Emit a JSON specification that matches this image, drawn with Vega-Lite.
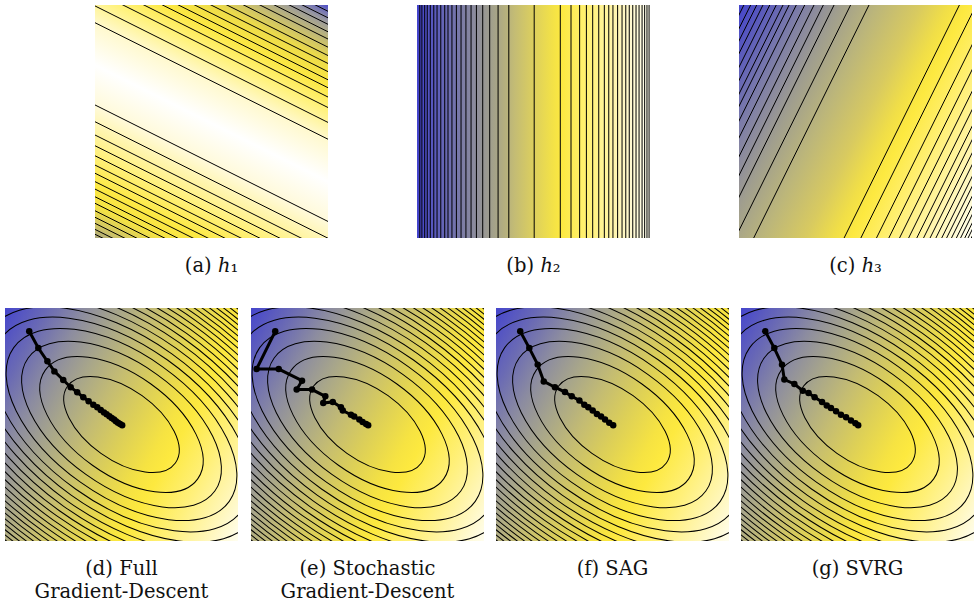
{
  "$schema": "https://vega.github.io/schema/vega-lite/v6.json",
  "padding": {"left": 5, "top": 5, "right": 0, "bottom": 0},
  "background": "white",
  "config": {
    "view": {"stroke": null},
    "axis": {"disable": true},
    "legend": {"disable": true},
    "title": {"orient": "bottom", "anchor": "middle", "font": "DejaVu Serif", "fontSize": 19.5, "fontWeight": "normal", "color": "#111111", "offset": 19, "lineHeight": 23}
  },
  "datasets": {
    "ell": [{"k":1},{"k":2},{"k":3},{"k":4},{"k":5},{"k":6},{"k":7},{"k":8},{"k":9},{"k":10},{"k":11},{"k":12},{"k":13},{"k":14},{"k":15},{"k":16},{"k":17},{"k":18},{"k":19},{"k":20},{"k":21},{"k":22}],
    "h1": [{"l":7.6,"r":57.6},{"l":0.4,"r":50.4},{"l":-6.0,"r":44.0},{"l":-10.5,"r":39.5},{"l":-14.5,"r":35.5},{"l":-17.9,"r":32.1},{"l":-21.4,"r":28.6},{"l":-24.9,"r":25.1},{"l":-28.3,"r":21.7},{"l":-31.9,"r":18.1},{"l":-35.4,"r":14.6},{"l":-38.5,"r":11.5},{"l":-41.7,"r":8.3},{"l":-44.5,"r":5.5},{"l":-47.3,"r":2.7},
           {"l":42.9,"r":92.9},{"l":50.1,"r":100.1},{"l":55.8,"r":105.8},{"l":60.4,"r":110.4},{"l":64.7,"r":114.7},{"l":68.7,"r":118.7},{"l":72.2,"r":122.2},{"l":75.8,"r":125.8},{"l":79.0,"r":129.0},{"l":82.3,"r":132.3},{"l":85.1,"r":135.1},{"l":88.3,"r":138.3},{"l":91.1,"r":141.1},{"l":93.7,"r":143.7},{"l":96.3,"r":146.3},{"l":98.4,"r":148.4}],
    "h2": [{"x":1.2},{"x":2.1},{"x":3.3},{"x":4.4},{"x":5.7},{"x":7.2},{"x":8.6},{"x":10.2},{"x":11.9},{"x":13.3},{"x":15.0},{"x":16.9},{"x":18.9},{"x":21.0},{"x":23.2},{"x":25.5},{"x":28.2},{"x":31.2},{"x":34.8},{"x":39.4},{"x":50.3},
           {"x":61.5},{"x":66.1},{"x":69.8},{"x":72.7},{"x":75.4},{"x":78.0},{"x":80.4},{"x":82.3},{"x":84.1},{"x":86.1},{"x":88.0},{"x":89.6},{"x":91.1},{"x":92.6},{"x":94.0},{"x":95.3},{"x":96.6},{"x":97.7},{"x":98.7},{"x":99.6}],
    "h3": [{"t":55.8,"b":6.3},{"t":47.9,"b":-1.6},{"t":40.8,"b":-8.7},{"t":36.2,"b":-13.3},{"t":32.2,"b":-17.3},{"t":28.2,"b":-21.3},{"t":24.6,"b":-24.9},{"t":21.5,"b":-28.0},{"t":18.9,"b":-30.6},{"t":16.0,"b":-33.5},{"t":13.2,"b":-36.3},{"t":10.3,"b":-39.2},{"t":7.6,"b":-41.9},{"t":5.0,"b":-44.5},{"t":2.1,"b":-47.4},
           {"t":94.6,"b":45.1},{"t":101.8,"b":52.3},{"t":108.5,"b":59.0},{"t":113.8,"b":64.3},{"t":118.4,"b":68.9},{"t":122.3,"b":72.8},{"t":125.8,"b":76.3},{"t":128.7,"b":79.2},{"t":131.5,"b":82.0},{"t":134.0,"b":84.5},{"t":136.5,"b":87.0},{"t":138.6,"b":89.1},{"t":140.7,"b":91.2},{"t":142.8,"b":93.3},{"t":144.6,"b":95.1},{"t":146.4,"b":96.9},{"t":147.8,"b":98.3},{"t":149.2,"b":99.7}],
    "gd": [{"i":0,"x":10.4,"y":10.0},{"i":1,"x":14.3,"y":17.2},{"i":2,"x":18.2,"y":22.9},{"i":3,"x":21.2,"y":27.2},{"i":4,"x":25.0,"y":30.9},{"i":5,"x":28.2,"y":34.0},{"i":6,"x":31.0,"y":36.2},{"i":7,"x":33.6,"y":38.3},{"i":8,"x":35.9,"y":40.0},{"i":9,"x":37.9,"y":41.5},{"i":10,"x":39.6,"y":42.6},{"i":11,"x":41.1,"y":43.8},{"i":12,"x":42.5,"y":44.8},{"i":13,"x":43.6,"y":45.6},{"i":14,"x":44.8,"y":46.5},{"i":15,"x":45.8,"y":47.2},{"i":16,"x":46.8,"y":47.9},{"i":17,"x":47.6,"y":48.6},{"i":18,"x":48.5,"y":49.2},{"i":19,"x":49.4,"y":49.8},{"i":20,"x":50.3,"y":50.3}],
    "sgd": [{"i":0,"x":10.4,"y":10.0},{"i":1,"x":2.4,"y":26.2},{"i":2,"x":11.9,"y":26.2},{"i":3,"x":21.9,"y":31.2},{"i":4,"x":19.6,"y":35.0},{"i":5,"x":26.2,"y":35.0},{"i":6,"x":31.9,"y":37.9},{"i":7,"x":31.0,"y":40.8},{"i":8,"x":35.1,"y":40.3},{"i":9,"x":38.6,"y":42.6},{"i":10,"x":39.4,"y":44.0},{"i":11,"x":42.9,"y":45.8},{"i":12,"x":44.3,"y":46.6},{"i":13,"x":46.5,"y":47.9},{"i":14,"x":47.9,"y":48.9},{"i":15,"x":49.4,"y":49.8},{"i":16,"x":50.3,"y":50.3}],
    "sag": [{"i":0,"x":10.4,"y":10.0},{"i":1,"x":14.3,"y":17.2},{"i":2,"x":17.9,"y":24.3},{"i":3,"x":20.5,"y":31.5},{"i":4,"x":25.3,"y":34.0},{"i":5,"x":29.6,"y":36.1},{"i":6,"x":32.5,"y":37.9},{"i":7,"x":35.8,"y":39.7},{"i":8,"x":37.9,"y":41.5},{"i":9,"x":39.6,"y":42.6},{"i":10,"x":41.5,"y":44.0},{"i":11,"x":43.3,"y":45.5},{"i":12,"x":45.1,"y":46.6},{"i":13,"x":46.8,"y":47.9},{"i":14,"x":48.6,"y":49.2},{"i":15,"x":50.3,"y":50.3}],
    "svrg": [{"i":0,"x":10.4,"y":10.0},{"i":1,"x":14.3,"y":17.2},{"i":2,"x":17.6,"y":24.3},{"i":3,"x":18.6,"y":30.7},{"i":4,"x":22.9,"y":32.6},{"i":5,"x":26.5,"y":35.5},{"i":6,"x":29.0,"y":36.5},{"i":7,"x":31.6,"y":38.3},{"i":8,"x":34.8,"y":40.3},{"i":9,"x":36.8,"y":41.8},{"i":10,"x":38.6,"y":42.9},{"i":11,"x":40.8,"y":44.3},{"i":12,"x":42.9,"y":45.8},{"i":13,"x":45.1,"y":46.9},{"i":14,"x":47.2,"y":48.3},{"i":15,"x":49.1,"y":49.5},{"i":16,"x":50.3,"y":50.3}]
  },
  "spacing": 32,
  "vconcat": [
    {
      "spacing": 89,
      "hconcat": [
        {"width": 1, "height": 233, "data": {"values": [{}]}, "mark": {"type": "text"}, "encoding": {"text": {"value": ""}}},
        {
          "width": 233, "height": 233, "title": {"text": "(a) ℎ₁"},
          "layer": [
            {"data": {"values": [{}]}, "mark": {"type": "rect", "fill": {"gradient": "linear", "x1": 0, "y1": 1, "x2": 0.6, "y2": -0.2, "stops": [
              {"offset": 0, "color": "#a8a47c"}, {"offset": 0.037, "color": "#cfc466"}, {"offset": 0.094, "color": "#f4e244"}, {"offset": 0.15, "color": "#fde943"}, {"offset": 0.266, "color": "#fff28c"}, {"offset": 0.38, "color": "#fffadb"}, {"offset": 0.495, "color": "#ffffff"}, {"offset": 0.61, "color": "#fff9d0"}, {"offset": 0.695, "color": "#fff27e"}, {"offset": 0.767, "color": "#fce842"}, {"offset": 0.838, "color": "#ecdb4a"}, {"offset": 0.91, "color": "#b8b27e"}, {"offset": 0.953, "color": "#9898a0"}, {"offset": 0.981, "color": "#7070b8"}, {"offset": 1, "color": "#4c4cc8"}]}},
             "encoding": {"x": {"datum": 0, "type": "quantitative", "scale": {"domain": [0, 100], "nice": false, "zero": false}}, "x2": {"datum": 100}, "y": {"datum": 0, "type": "quantitative", "scale": {"domain": [0, 100], "nice": false, "zero": false, "reverse": true}}, "y2": {"datum": 100}}},
            {"data": {"name": "h1"}, "mark": {"type": "rule", "clip": true, "color": "black", "strokeWidth": 1},
             "encoding": {"x": {"datum": 0, "type": "quantitative"}, "x2": {"datum": 100}, "y": {"field": "l", "type": "quantitative"}, "y2": {"field": "r"}}}
          ]
        },
        {
          "width": 233, "height": 233, "title": {"text": "(b) ℎ₂"},
          "layer": [
            {"data": {"values": [{}]}, "mark": {"type": "rect", "fill": {"gradient": "linear", "x1": 0, "y1": 0, "x2": 1, "y2": 0, "stops": [
              {"offset": 0, "color": "#4242cc"}, {"offset": 0.06, "color": "#5656c0"}, {"offset": 0.15, "color": "#7070ae"}, {"offset": 0.25, "color": "#8c8c9c"}, {"offset": 0.33, "color": "#a4a28a"}, {"offset": 0.42, "color": "#c4bc74"}, {"offset": 0.5, "color": "#dccf5e"}, {"offset": 0.58, "color": "#f2e148"}, {"offset": 0.62, "color": "#fde940"}, {"offset": 0.7, "color": "#ffef66"}, {"offset": 0.8, "color": "#fff396"}, {"offset": 0.9, "color": "#fff8c8"}, {"offset": 1, "color": "#fffff0"}]}},
             "encoding": {"x": {"datum": 0, "type": "quantitative", "scale": {"domain": [0, 100], "nice": false, "zero": false}}, "x2": {"datum": 100}, "y": {"datum": 0, "type": "quantitative", "scale": {"domain": [0, 100], "nice": false, "zero": false, "reverse": true}}, "y2": {"datum": 100}}},
            {"data": {"name": "h2"}, "mark": {"type": "rule", "clip": true, "color": "black", "strokeWidth": 1},
             "encoding": {"x": {"field": "x", "type": "quantitative"}}}
          ]
        },
        {
          "width": 233, "height": 233, "title": {"text": "(c) ℎ₃"},
          "layer": [
            {"data": {"values": [{}]}, "mark": {"type": "rect", "fill": {"gradient": "linear", "x1": 0, "y1": 0, "x2": 1.2, "y2": 0.594, "stops": [
              {"offset": 0, "color": "#4444cc"}, {"offset": 0.086, "color": "#5e5eba"}, {"offset": 0.17, "color": "#7a7aaa"}, {"offset": 0.29, "color": "#a09e8e"}, {"offset": 0.4, "color": "#bcb67a"}, {"offset": 0.52, "color": "#d8ca60"}, {"offset": 0.6, "color": "#f0de48"}, {"offset": 0.655, "color": "#fde940"}, {"offset": 0.75, "color": "#ffef70"}, {"offset": 0.86, "color": "#fff5a8"}, {"offset": 1, "color": "#fffff2"}]}},
             "encoding": {"x": {"datum": 0, "type": "quantitative", "scale": {"domain": [0, 100], "nice": false, "zero": false}}, "x2": {"datum": 100}, "y": {"datum": 0, "type": "quantitative", "scale": {"domain": [0, 100], "nice": false, "zero": false, "reverse": true}}, "y2": {"datum": 100}}},
            {"data": {"name": "h3"}, "mark": {"type": "rule", "clip": true, "color": "black", "strokeWidth": 1},
             "encoding": {"x": {"field": "t", "type": "quantitative"}, "x2": {"field": "b"}, "y": {"datum": 0, "type": "quantitative"}, "y2": {"datum": 100}}}
          ]
        }
      ]
    },
    {
      "spacing": 12,
      "hconcat": [
        {
          "width": 233, "height": 233, "title": {"text": ["(d) Full", "Gradient-Descent"]},
          "layer": [
            {"data": {"values": [{}]}, "mark": {"type": "rect", "fill": {"gradient": "linear", "x1": 0, "y1": 0, "x2": 1.189, "y2": 0.661, "stops": [
              {"offset": 0, "color": "#4646cc"}, {"offset": 0.12, "color": "#6a6ab4"}, {"offset": 0.22, "color": "#8c8ca0"}, {"offset": 0.32, "color": "#a8a68a"}, {"offset": 0.42, "color": "#c4bc72"}, {"offset": 0.52, "color": "#dccf58"}, {"offset": 0.63, "color": "#f6e342"}, {"offset": 0.68, "color": "#fde93f"}, {"offset": 0.8, "color": "#fff07a"}, {"offset": 0.9, "color": "#fff6b4"}, {"offset": 1, "color": "#fffef0"}]}},
             "encoding": {"x": {"datum": 0, "type": "quantitative", "scale": {"domain": [0, 100], "nice": false, "zero": false}}, "x2": {"datum": 100}, "y": {"datum": 0, "type": "quantitative", "scale": {"domain": [0, 100], "nice": false, "zero": false, "reverse": true}}, "y2": {"datum": 100}}},
            {"data": {"name": "ell"}, "mark": {"type": "point", "shape": "M -1 0 A 1 0.535 0 1 1 1 0 A 1 0.535 0 1 1 -1 0 Z", "angle": 35.5, "filled": false, "color": "black", "stroke": "black", "strokeWidth": 1, "opacity": 1, "clip": true},
             "encoding": {"x": {"datum": 50, "type": "quantitative"}, "y": {"datum": 50, "type": "quantitative"}, "size": {"field": "k", "type": "quantitative", "scale": {"type": "linear", "domain": [0, 22], "range": [0, 385616]}}}},
            {"data": {"name": "gd"}, "mark": {"type": "line", "color": "black", "strokeWidth": 3},
             "encoding": {"x": {"field": "x", "type": "quantitative"}, "y": {"field": "y", "type": "quantitative"}, "order": {"field": "i"}}},
            {"data": {"name": "gd"}, "mark": {"type": "circle", "color": "black", "size": 42, "opacity": 1},
             "encoding": {"x": {"field": "x", "type": "quantitative"}, "y": {"field": "y", "type": "quantitative"}}}
          ]
        },
        {
          "width": 233, "height": 233, "title": {"text": ["(e) Stochastic", "Gradient-Descent"]},
          "layer": [
            {"data": {"values": [{}]}, "mark": {"type": "rect", "fill": {"gradient": "linear", "x1": 0, "y1": 0, "x2": 1.189, "y2": 0.661, "stops": [
              {"offset": 0, "color": "#4646cc"}, {"offset": 0.12, "color": "#6a6ab4"}, {"offset": 0.22, "color": "#8c8ca0"}, {"offset": 0.32, "color": "#a8a68a"}, {"offset": 0.42, "color": "#c4bc72"}, {"offset": 0.52, "color": "#dccf58"}, {"offset": 0.63, "color": "#f6e342"}, {"offset": 0.68, "color": "#fde93f"}, {"offset": 0.8, "color": "#fff07a"}, {"offset": 0.9, "color": "#fff6b4"}, {"offset": 1, "color": "#fffef0"}]}},
             "encoding": {"x": {"datum": 0, "type": "quantitative", "scale": {"domain": [0, 100], "nice": false, "zero": false}}, "x2": {"datum": 100}, "y": {"datum": 0, "type": "quantitative", "scale": {"domain": [0, 100], "nice": false, "zero": false, "reverse": true}}, "y2": {"datum": 100}}},
            {"data": {"name": "ell"}, "mark": {"type": "point", "shape": "M -1 0 A 1 0.535 0 1 1 1 0 A 1 0.535 0 1 1 -1 0 Z", "angle": 35.5, "filled": false, "color": "black", "stroke": "black", "strokeWidth": 1, "opacity": 1, "clip": true},
             "encoding": {"x": {"datum": 50, "type": "quantitative"}, "y": {"datum": 50, "type": "quantitative"}, "size": {"field": "k", "type": "quantitative", "scale": {"type": "linear", "domain": [0, 22], "range": [0, 385616]}}}},
            {"data": {"name": "sgd"}, "mark": {"type": "line", "color": "black", "strokeWidth": 3},
             "encoding": {"x": {"field": "x", "type": "quantitative"}, "y": {"field": "y", "type": "quantitative"}, "order": {"field": "i"}}},
            {"data": {"name": "sgd"}, "mark": {"type": "circle", "color": "black", "size": 42, "opacity": 1},
             "encoding": {"x": {"field": "x", "type": "quantitative"}, "y": {"field": "y", "type": "quantitative"}}}
          ]
        },
        {
          "width": 233, "height": 233, "title": {"text": "(f) SAG"},
          "layer": [
            {"data": {"values": [{}]}, "mark": {"type": "rect", "fill": {"gradient": "linear", "x1": 0, "y1": 0, "x2": 1.189, "y2": 0.661, "stops": [
              {"offset": 0, "color": "#4646cc"}, {"offset": 0.12, "color": "#6a6ab4"}, {"offset": 0.22, "color": "#8c8ca0"}, {"offset": 0.32, "color": "#a8a68a"}, {"offset": 0.42, "color": "#c4bc72"}, {"offset": 0.52, "color": "#dccf58"}, {"offset": 0.63, "color": "#f6e342"}, {"offset": 0.68, "color": "#fde93f"}, {"offset": 0.8, "color": "#fff07a"}, {"offset": 0.9, "color": "#fff6b4"}, {"offset": 1, "color": "#fffef0"}]}},
             "encoding": {"x": {"datum": 0, "type": "quantitative", "scale": {"domain": [0, 100], "nice": false, "zero": false}}, "x2": {"datum": 100}, "y": {"datum": 0, "type": "quantitative", "scale": {"domain": [0, 100], "nice": false, "zero": false, "reverse": true}}, "y2": {"datum": 100}}},
            {"data": {"name": "ell"}, "mark": {"type": "point", "shape": "M -1 0 A 1 0.535 0 1 1 1 0 A 1 0.535 0 1 1 -1 0 Z", "angle": 35.5, "filled": false, "color": "black", "stroke": "black", "strokeWidth": 1, "opacity": 1, "clip": true},
             "encoding": {"x": {"datum": 50, "type": "quantitative"}, "y": {"datum": 50, "type": "quantitative"}, "size": {"field": "k", "type": "quantitative", "scale": {"type": "linear", "domain": [0, 22], "range": [0, 385616]}}}},
            {"data": {"name": "sag"}, "mark": {"type": "line", "color": "black", "strokeWidth": 3},
             "encoding": {"x": {"field": "x", "type": "quantitative"}, "y": {"field": "y", "type": "quantitative"}, "order": {"field": "i"}}},
            {"data": {"name": "sag"}, "mark": {"type": "circle", "color": "black", "size": 42, "opacity": 1},
             "encoding": {"x": {"field": "x", "type": "quantitative"}, "y": {"field": "y", "type": "quantitative"}}}
          ]
        },
        {
          "width": 233, "height": 233, "title": {"text": "(g) SVRG"},
          "layer": [
            {"data": {"values": [{}]}, "mark": {"type": "rect", "fill": {"gradient": "linear", "x1": 0, "y1": 0, "x2": 1.189, "y2": 0.661, "stops": [
              {"offset": 0, "color": "#4646cc"}, {"offset": 0.12, "color": "#6a6ab4"}, {"offset": 0.22, "color": "#8c8ca0"}, {"offset": 0.32, "color": "#a8a68a"}, {"offset": 0.42, "color": "#c4bc72"}, {"offset": 0.52, "color": "#dccf58"}, {"offset": 0.63, "color": "#f6e342"}, {"offset": 0.68, "color": "#fde93f"}, {"offset": 0.8, "color": "#fff07a"}, {"offset": 0.9, "color": "#fff6b4"}, {"offset": 1, "color": "#fffef0"}]}},
             "encoding": {"x": {"datum": 0, "type": "quantitative", "scale": {"domain": [0, 100], "nice": false, "zero": false}}, "x2": {"datum": 100}, "y": {"datum": 0, "type": "quantitative", "scale": {"domain": [0, 100], "nice": false, "zero": false, "reverse": true}}, "y2": {"datum": 100}}},
            {"data": {"name": "ell"}, "mark": {"type": "point", "shape": "M -1 0 A 1 0.535 0 1 1 1 0 A 1 0.535 0 1 1 -1 0 Z", "angle": 35.5, "filled": false, "color": "black", "stroke": "black", "strokeWidth": 1, "opacity": 1, "clip": true},
             "encoding": {"x": {"datum": 50, "type": "quantitative"}, "y": {"datum": 50, "type": "quantitative"}, "size": {"field": "k", "type": "quantitative", "scale": {"type": "linear", "domain": [0, 22], "range": [0, 385616]}}}},
            {"data": {"name": "svrg"}, "mark": {"type": "line", "color": "black", "strokeWidth": 3},
             "encoding": {"x": {"field": "x", "type": "quantitative"}, "y": {"field": "y", "type": "quantitative"}, "order": {"field": "i"}}},
            {"data": {"name": "svrg"}, "mark": {"type": "circle", "color": "black", "size": 42, "opacity": 1},
             "encoding": {"x": {"field": "x", "type": "quantitative"}, "y": {"field": "y", "type": "quantitative"}}}
          ]
        }
      ]
    }
  ]
}
